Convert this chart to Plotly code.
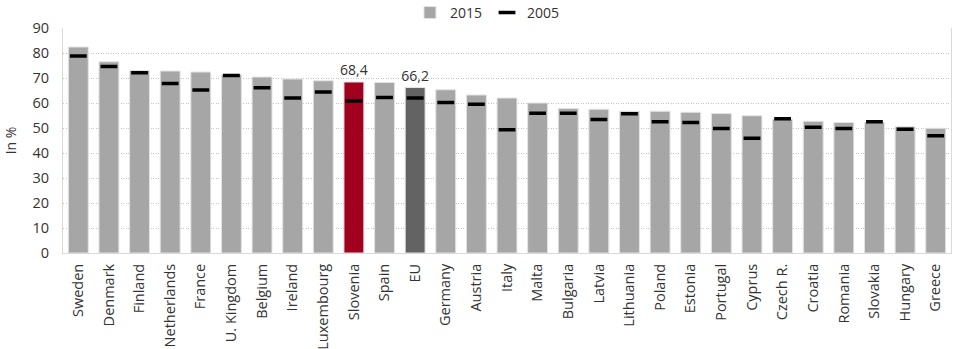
import plotly.graph_objects as go

countries = ["Sweden", "Denmark", "Finland", "Netherlands", "France", "U. Kingdom",
             "Belgium", "Ireland", "Luxembourg", "Slovenia", "Spain", "EU", "Germany",
             "Austria", "Italy", "Malta", "Bulgaria", "Latvia", "Lithuania", "Poland",
             "Estonia", "Portugal", "Cyprus", "Czech R.", "Croatia", "Romania",
             "Slovakia", "Hungary", "Greece"]
rate_2015 = [82.4, 76.5, 73.0, 72.8, 72.4, 71.4, 70.4, 69.6, 68.9, 68.4, 68.2, 66.2, 65.3,
             63.2, 62.0, 60.0, 57.8, 57.5, 56.7, 56.7, 56.3, 55.8, 54.9, 53.5, 52.7, 52.2,
             52.2, 50.5, 49.9]
rate_2005 = [78.8, 74.6, 72.1, 67.8, 65.2, 71.0, 66.1, 62.0, 64.4, 60.8, 62.2, 62.0, 60.2,
             59.5, 49.3, 55.9, 55.9, 53.4, 55.7, 52.5, 52.2, 49.8, 45.9, 53.7, 50.3, 49.8,
             52.5, 49.5, 46.9]
highlight = {"Slovenia": "#a1001f", "EU": "#636363"}
y_ticks = list(range(0, 100, 10))

bar_colors = [highlight.get(c, "#a6a6a6") for c in countries]
bar_text = [f"{v:.1f}".replace(".", ",") if c in highlight else ""
            for c, v in zip(countries, rate_2015)]

font_family = "Open Sans, Segoe UI, sans-serif"
text_color = "#333333"

fig = go.Figure()
fig.add_trace(go.Bar(
    x=countries, y=rate_2015, name="2015",
    marker=dict(color=bar_colors, line=dict(color="#e3e3e3", width=1)),
    text=bar_text, textposition="outside", cliponaxis=False, constraintext="none",
    textfont=dict(size=14, color=text_color, family=font_family),
))
fig.add_trace(go.Scatter(
    x=countries, y=rate_2005, name="2005", mode="markers",
    marker=dict(symbol="line-ew", size=12, line=dict(color="#000000", width=3.5)),
))

fig.update_layout(
    width=960, height=349,
    margin=dict(l=63, r=9, t=28, b=96, autoexpand=False),
    paper_bgcolor="white", plot_bgcolor="white",
    font=dict(family=font_family, size=14, color=text_color),
    bargap=0.35, showlegend=True,
    legend=dict(orientation="h", x=0.478, xanchor="center", y=1.067, yanchor="middle",
                font=dict(size=14), itemwidth=30, traceorder="normal",
                bgcolor="rgba(0,0,0,0)"),
    xaxis=dict(tickangle=-90, showline=True, linecolor="#d9d9d9", linewidth=1,
               ticks="", showgrid=False, tickfont=dict(size=14.5),
               ticklabelstandoff=4, automargin=False,
               range=[-0.5, len(countries) - 0.5]),
    yaxis=dict(range=[0, 90], tickvals=y_ticks, showgrid=True, gridcolor="#c4c4c4",
               griddash="1px,1.5px", gridwidth=1, zeroline=False, showline=True,
               linecolor="#d9d9d9", linewidth=1, mirror=True, ticks="",
               tickfont=dict(size=14.5), ticklabelstandoff=10, automargin=False,
               title=dict(text="In %", font=dict(size=14), standoff=12)),
)

fig.write_html("out.html")
